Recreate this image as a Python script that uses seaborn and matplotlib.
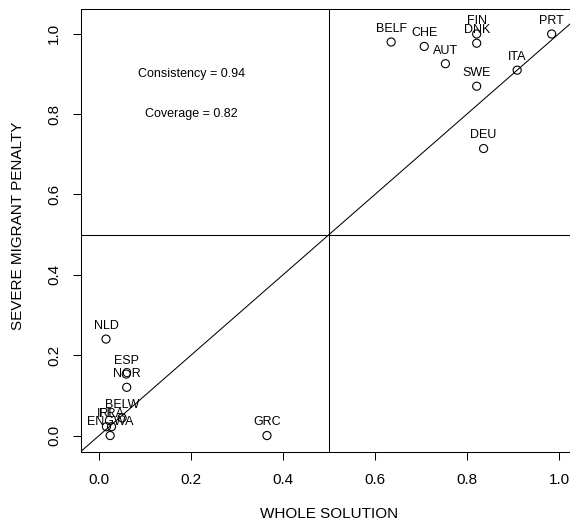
import matplotlib
matplotlib.use("Agg")
import matplotlib.pyplot as plt
import seaborn as sns
import pandas as pd

# ---- data ----
countries = ["BELF", "CHE", "AUT", "FIN", "DNK", "PRT", "ITA", "SWE", "DEU",
             "NLD", "ESP", "NOR", "BELW", "IRL", "FRA", "ENGWA", "GRC"]
whole_solution = [0.635, 0.707, 0.753, 0.821, 0.821, 0.984, 0.909, 0.821, 0.836,
                  0.015, 0.059, 0.060, 0.050, 0.016, 0.027, 0.024, 0.365]
severe_penalty = [0.979, 0.968, 0.925, 0.999, 0.976, 0.999, 0.909, 0.869, 0.714,
                  0.240, 0.153, 0.120, 0.044, 0.022, 0.022, 0.000, 0.000]

x_ticks = [0.0, 0.2, 0.4, 0.6, 0.8, 1.0]
y_ticks = [0.0, 0.2, 0.4, 0.6, 0.8, 1.0]
x_tick_labels = ["0.0", "0.2", "0.4", "0.6", "0.8", "1.0"]
y_tick_labels = ["0.0", "0.2", "0.4", "0.6", "0.8", "1.0"]
x_title = "WHOLE SOLUTION"
y_title = "SEVERE MIGRANT PENALTY"
note_texts = ["Consistency = 0.94", "Coverage = 0.82"]
note_x = [0.2, 0.2]
note_y = [0.9, 0.8]
threshold = 0.5

sns.set_style("white")
plt.rcParams['font.family'] = ['Liberation Sans', 'DejaVu Sans']

df = pd.DataFrame({"country": countries, "x": whole_solution, "y": severe_penalty})

fig = plt.figure(figsize=(5.7, 5.25), dpi=100)
ax = fig.add_axes([0.1416, 0.139, 0.8714, 0.843])

sns.scatterplot(data=df, x="x", y="y", ax=ax, marker="o", s=34,
                facecolor="none", edgecolor="black", linewidth=0.8, zorder=3)

ax.axline((0, 0), (1, 1), color="black", lw=0.75, zorder=2)
ax.axhline(threshold, color="black", lw=0.75, zorder=2)
ax.axvline(threshold, color="black", lw=0.75, zorder=2)

for c, xv, yv in zip(countries, whole_solution, severe_penalty):
    ax.annotate(c, (xv, yv), xytext=(0, 9.4), textcoords="offset points",
                ha="center", va="center", fontsize=9, color="black", zorder=4)

for t, xv, yv in zip(note_texts, note_x, note_y):
    ax.text(xv, yv, t, ha="center", va="center", fontsize=9, color="black")

ax.set_xlim(-0.04, 1.04)
ax.set_ylim(-0.041, 1.06)
ax.set_xticks(x_ticks)
ax.set_xticklabels(x_tick_labels)
ax.set_yticks(y_ticks)
ax.set_yticklabels(y_tick_labels, rotation=90, va="center")

ax.tick_params(axis="both", which="both", bottom=True, left=True, top=False, right=False,
               direction="out", length=5.5, width=0.75, labelsize=11, colors="black")
ax.tick_params(axis="x", pad=9.5)
ax.tick_params(axis="y", pad=8.5)

for sp in ax.spines.values():
    sp.set_visible(True)
    sp.set_color("black")
    sp.set_linewidth(0.75)

ax.set_xlabel(x_title, fontsize=11, color="black")
ax.set_ylabel(y_title, fontsize=11, color="black")
ax.xaxis.set_label_coords(0.4995, -0.125)
ax.yaxis.set_label_coords(-0.112, 0.51)

fig.savefig("out.png", dpi=100)
